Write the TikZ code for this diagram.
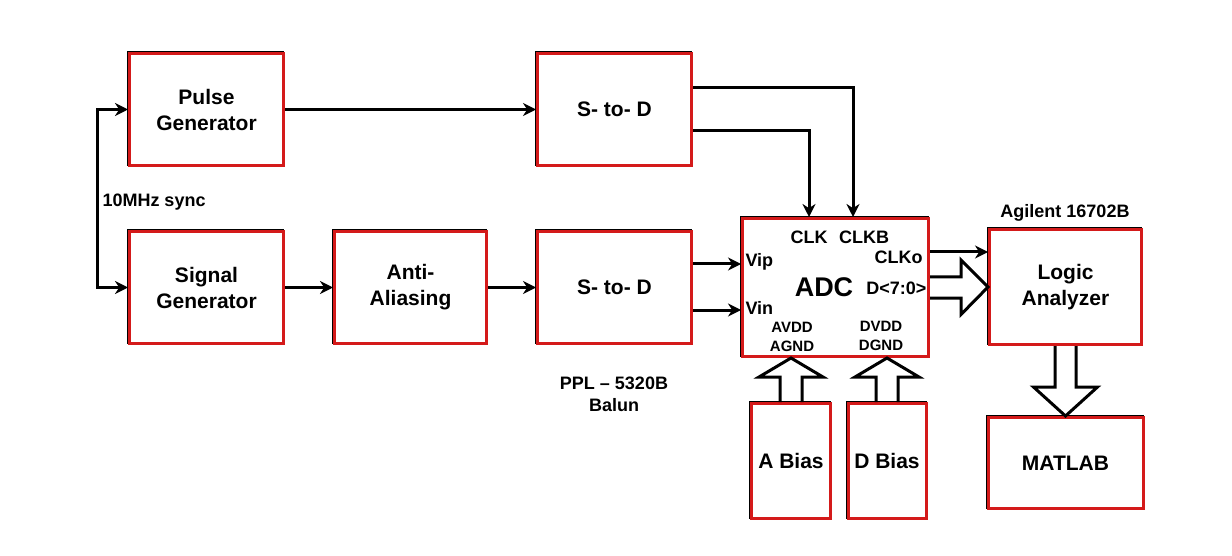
\documentclass[tikz,border=0pt]{standalone}
\usepackage{fontspec}
\setmainfont{Liberation Sans}
\usetikzlibrary{arrows.meta,calc}
\definecolor{boxred}{HTML}{D41A1A}
\tikzset{px/.style={x=1pt,y=-1pt,line width=3pt,font=\bfseries},
  blk/.style={draw=boxred,line width=3pt,fill=white,inner sep=0pt,align=center,
    preaction={draw=black,transform canvas={xshift=-1pt,yshift=1pt}},
    font=\bfseries\fontsize{21}{26}\selectfont},
  arr/.style={-{Stealth[length=13pt,width=13pt]},line width=3pt},
  fat/.style={line width=3pt,line join=miter},
  pinl/.style={inner sep=0pt,font=\bfseries\fontsize{18}{21}\selectfont},
  supl/.style={inner sep=0pt,align=center,font=\bfseries\fontsize{15}{19}\selectfont}}

\begin{document}
\begin{tikzpicture}[px]
  \useasboundingbox (0,0) rectangle (1232,556);
  % blocks
  \node[blk,minimum width=154pt,minimum height=112pt] (pulse) at (206.5,109.5) {Pulse\\Generator};
  \node[blk,minimum width=154pt,minimum height=112pt] (sig) at (206.5,287.5) {Signal\\Generator};
  \node[blk,minimum width=152pt,minimum height=112pt] (aa) at (410.5,287.5) {Anti-\\Aliasing};
  \node[blk,minimum width=154pt,minimum height=112pt] (stdt) at (614.5,109.5) {S- to- D};
  \node[blk,minimum width=154pt,minimum height=112pt] (stdb) at (614.5,287.5) {S- to- D};
  \node[blk,minimum width=186pt,minimum height=138pt] (adc) at (835.5,287.5) {};
  \node[blk,minimum width=152pt,minimum height=115pt] (la) at (1065.5,287) {Logic\\Analyzer};
  \node[blk,minimum width=155pt,minimum height=91pt] (ml) at (1065.5,463) {MATLAB};
  \node[blk,minimum width=79pt,minimum height=115pt] (ab) at (791,461) {A Bias};
  \node[blk,minimum width=78pt,minimum height=115pt] (db) at (887,461) {D Bias};
  % adc pins
  \node[inner sep=0pt,font=\bfseries\fontsize{27}{30}\selectfont] (adct) at (824,287) {ADC};
  \node[pinl] (clk) at (809,237) {CLK};
  \node[pinl] (clkb) at (864,237) {CLKB};
  \node[pinl,anchor=east] (clko) at (924,257) {CLKo};
  \node[pinl,anchor=east] (dout) at (928,288) {D<7:0>};
  \node[pinl,anchor=west] (vip) at (744,262) {Vip};
  \node[pinl,anchor=west] (vin) at (744,308) {Vin};
  \node[supl] (avdd) at (792,337) {AVDD\\AGND};
  \node[supl] (dvdd) at (881,336) {DVDD\\DGND};
  % other labels
  \node[pinl,anchor=west] (syl) at (101,202) {10MHz sync};
  \node[pinl,align=center,font=\bfseries\fontsize{18}{22}\selectfont] (balun) at (614,394) {PPL -- 5320B\\Balun};
  \node[pinl] (agl) at (1065,213) {Agilent 16702B};
  % connectors
  \coordinate (syn) at (97,200);
  \draw[arr] (syn) |- (pulse);
  \draw[arr] (syn) |- (sig);
  \draw[arr] (pulse) -- (stdt);
  \draw[arr] (sig) -- (aa);
  \draw[arr] (aa) -- (stdb);
  \draw[arr] ($(stdt.east)+(0,21.5)$) -| ($(adc.north)+(-26.5,0)$);
  \draw[arr] ($(stdt.east)+(0,-21.5)$) -| ($(adc.north)+(17.5,0)$);
  \draw[arr] ($(stdb.east)+(0,-23.5)$) -- ($(adc.west)+(0,-23.5)$);
  \draw[arr] ($(stdb.east)+(0,22.5)$) -- ($(adc.west)+(0,22.5)$);
  \draw[arr] ($(adc.east)+(0,-35.5)$) -- ($(la.west)+(0,-35)$);
  % bus arrows
  \draw[fat] ($(adc.east)+(0,-10.5)$) -- ++(31,0) -- ++(0,-17) -- (la.west) -- ($(adc.east)+(31,27)$) -- ++(0,-16.5) -- ++(-31,0);
  \draw[fat] ($(la.south)+(-10.5,0)$) -- ++(0,41) -- ++(-21.5,0) -- (ml.north) -- ($(la.south)+(32,41)$) -- ++(-21.5,0) -- ++(0,-41);
  \foreach \b in {ab,db}
    \draw[fat] ($(\b.north)+(-11,0)$) -- ++(0,-25) -- ++(-21,0) -- (\b.north |- adc.south) -- ($(\b.north)+(32,-25)$) -- ++(-21,0) -- ++(0,25);
\end{tikzpicture}
\end{document}
